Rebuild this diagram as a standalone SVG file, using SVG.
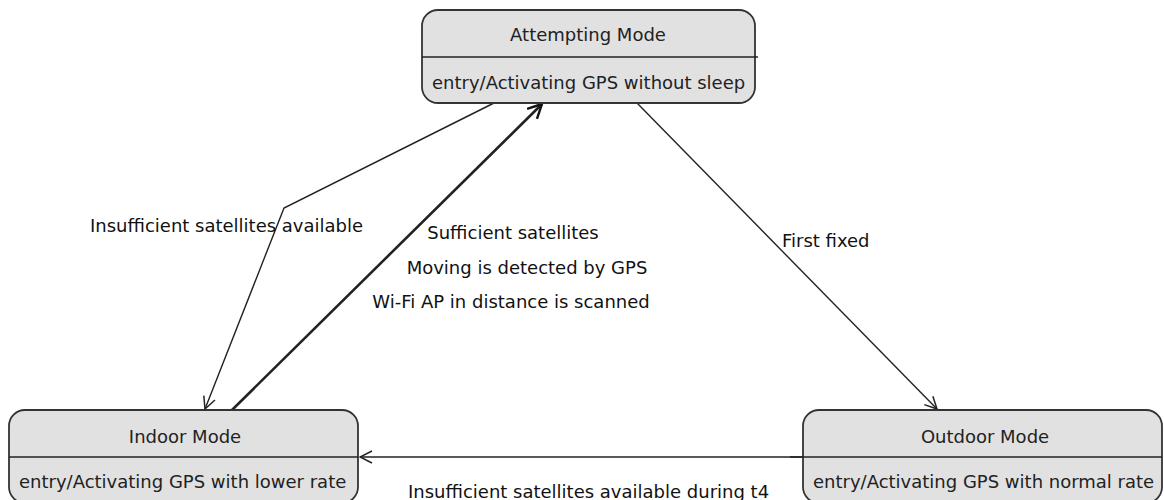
<svg xmlns="http://www.w3.org/2000/svg" width="1164" height="500" viewBox="0 0 1164 500">
  <style>
    .state { fill: #e1e1e1; stroke: #333; stroke-width: 1.8; }
    .divider { stroke: #222; stroke-width: 1.6; }
    .title { font-family: "DejaVu Sans", "Liberation Sans", sans-serif; font-size: 18px; fill: #222; text-anchor: middle; }
    .entry { font-family: "DejaVu Sans", "Liberation Sans", sans-serif; font-size: 18px; fill: #222; }
    .label { font-family: "DejaVu Sans", "Liberation Sans", sans-serif; font-size: 18px; fill: #111; }
    .edge { fill: none; stroke: #222; stroke-width: 1.4; }
    .edge.bold { stroke-width: 2.6; }
  </style>
  <defs>
    <marker id="open-arrow" viewBox="0 0 14 14" refX="13" refY="7" markerWidth="14" markerHeight="14" markerUnits="userSpaceOnUse" orient="auto">
      <path d="M1,1 L13,7 L1,13" fill="none" stroke="#222" stroke-width="1.5"/>
    </marker>
    <marker id="open-arrow-bold" viewBox="0 0 16 16" refX="15" refY="8" markerWidth="16" markerHeight="16" markerUnits="userSpaceOnUse" orient="auto">
      <path d="M1,1 L15,8 L1,15" fill="none" stroke="#111" stroke-width="2.4"/>
    </marker>
  </defs>

  <rect width="1164" height="500" fill="#fff"/>

  <!-- transitions -->
  <g id="connectors">
    <polyline class="edge" points="494,103 284,208 205,409" marker-end="url(#open-arrow)"/>
    <line class="edge bold" x1="232" y1="410" x2="542" y2="104" marker-end="url(#open-arrow-bold)"/>
    <line class="edge" x1="637" y1="103" x2="937" y2="409" marker-end="url(#open-arrow)"/>
    <line class="edge" x1="803" y1="457" x2="360" y2="457" marker-end="url(#open-arrow)"/>
    <text class="label" x="90" y="232">Insufficient satellites available</text>
    <text class="label" x="513" y="239" text-anchor="middle">Sufficient satellites</text>
    <text class="label" x="527" y="274" text-anchor="middle">Moving is detected by GPS</text>
    <text class="label" x="511" y="308" text-anchor="middle">Wi-Fi AP in distance is scanned</text>
    <text class="label" x="782" y="247">First fixed</text>
    <text class="label" x="408" y="498">Insufficient satellites available during t4</text>
  </g>

  <!-- states -->
  <g id="attempting-mode">
    <rect class="state" x="422" y="10" width="333" height="93" rx="16"/>
    <line class="divider" x1="422" y1="57" x2="758" y2="57"/>
    <text class="title" x="588" y="41">Attempting Mode</text>
    <text class="entry" x="432" y="89">entry/Activating GPS without sleep</text>
  </g>

  <g id="indoor-mode">
    <rect class="state" x="9" y="410" width="349" height="93" rx="16"/>
    <line class="divider" x1="9" y1="457" x2="358" y2="457"/>
    <text class="title" x="185" y="443">Indoor Mode</text>
    <text class="entry" x="19" y="488">entry/Activating GPS with lower rate</text>
  </g>

  <g id="outdoor-mode">
    <rect class="state" x="803" y="410" width="359" height="93" rx="16"/>
    <line class="divider" x1="790" y1="457" x2="1162" y2="457"/>
    <text class="title" x="985" y="443">Outdoor Mode</text>
    <text class="entry" x="813" y="488">entry/Activating GPS with normal rate</text>
  </g>
</svg>
